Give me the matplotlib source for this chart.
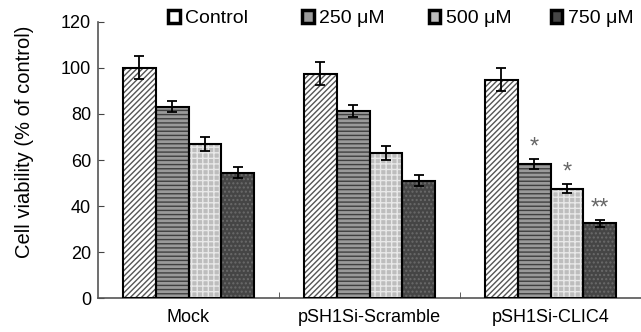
import numpy as np
import matplotlib
matplotlib.use("Agg")
import matplotlib.pyplot as plt
from matplotlib.patches import Patch

plt.rcParams['font.family'] = ['Liberation Sans', 'DejaVu Sans']

groups = ['Mock', 'pSH1Si-Scramble', 'pSH1Si-CLIC4']
series = ['Control', '250 μM', '500 μM', '750 μM']
control = [100, 97.5, 94.8]
d250 = [83.2, 81.4, 58.3]
d500 = [66.8, 63.2, 47.5]
d750 = [54.5, 51.0, 32.5]
err_control = [5, 5, 5]
err250 = [2.5, 2.5, 2]
err500 = [3, 3, 2]
err750 = [2.5, 2.5, 1.5]
stars = [['', '', '', ''], ['', '', '', ''], ['', '*', '*', '**']]

values = [control, d250, d500, d750]
errors = [err_control, err250, err500, err750]
faces = ['white', '#9a9a9a', '#bdbdbd', '#454545']
hatch_cols = ['#555555', '#404040', '#e8e8e8', '#6a6a6a']
hatches = ['//////', '----', '+++', '....']

fig = plt.figure(figsize=(6.41, 3.32), dpi=100)
ax = fig.add_axes([0.153, 0.102, 0.847, 0.832])

x = np.arange(len(groups))
w = 0.182
for i in range(4):
    pos = x + (i - 1.5) * w
    ax.bar(pos, values[i], w, color=faces[i], hatch=hatches[i],
           edgecolor=hatch_cols[i], linewidth=0, zorder=2)
    ax.bar(pos, values[i], w, fill=False, edgecolor='black',
           linewidth=1.5, zorder=3)
    ax.errorbar(pos, values[i], yerr=errors[i], fmt='none', ecolor='black',
                elinewidth=1.3, capsize=3.5, capthick=1.3, zorder=4)
    for j in range(len(groups)):
        if stars[j][i]:
            ax.text(pos[j], values[i][j] + errors[i][j] + 0.3, stars[j][i],
                    ha='center', va='bottom', fontsize=17, color='#666666',
                    zorder=5)

ax.set_xlim(-0.5, 2.5)
ax.set_ylim(0, 120)
ax.set_yticks([0, 20, 40, 60, 80, 100, 120])
ax.set_xticks(x)
ax.set_xticklabels(groups)
ax.set_xticks([0.5, 1.5, 2.5], minor=True)
ax.tick_params(axis='x', which='major', length=0, pad=8, labelsize=13)
ax.tick_params(axis='x', which='minor', direction='in', length=4,
               color='#444444')
ax.tick_params(axis='y', direction='in', length=4, pad=5, labelsize=13,
               color='#444444')
for s in ['top', 'right']:
    ax.spines[s].set_visible(False)
for s in ['left', 'bottom']:
    ax.spines[s].set_color('#555555')
    ax.spines[s].set_linewidth(1.2)

ax.set_ylabel('Cell viability (% of control)', fontsize=14.5)
ax.yaxis.set_label_coords(-0.118, 0.565)

# legend entries placed one by one along the top
legend_x = [0.262, 0.471, 0.669, 0.859]
for i in range(4):
    h = Patch(facecolor=faces[i], edgecolor='black', linewidth=2.5)
    fig.legend([h], [series[i]], loc='center left',
               bbox_to_anchor=(legend_x[i], 0.943), frameon=False,
               fontsize=14, handlelength=0.6, handleheight=0.6,
               handletextpad=0.3, borderpad=0, borderaxespad=0)

fig.savefig('out.png', dpi=100)
